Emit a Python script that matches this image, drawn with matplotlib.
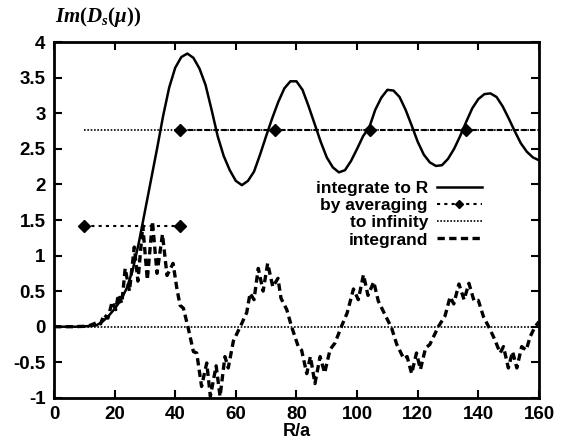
import matplotlib.pyplot as plt

plt.rcParams["font.family"] = ["Liberation Sans", "DejaVu Sans"]
plt.rcParams["font.weight"] = "bold"
plt.rcParams["mathtext.fontset"] = "custom"
plt.rcParams["mathtext.it"] = "Liberation Serif:italic:bold"
plt.rcParams["mathtext.rm"] = "Liberation Serif:bold"

# integrate to R (solid curve)
r_int = [0, 2, 4, 6, 8, 10, 12, 14, 16, 18, 20, 22, 24, 26, 28, 30, 32, 34, 36,
         38, 40, 42, 44, 46, 48, 50, 52, 54, 56, 58, 60, 62, 64, 66, 68, 70, 72,
         74, 76, 78, 80, 82, 84, 86, 88, 90, 92, 94, 96, 98, 100, 102, 104, 106,
         108, 110, 112, 114, 116, 118, 120, 122, 124, 126, 128, 130, 132, 134,
         136, 138, 140, 142, 144, 146, 148, 150, 152, 154, 156, 158, 160]
im_int = [0, 0, 0, 0, 0, 0.005, 0.01, 0.02, 0.07, 0.15, 0.25, 0.37, 0.54, 0.8,
          1.18, 1.62, 2.06, 2.5, 2.96, 3.36, 3.64, 3.79, 3.84, 3.78, 3.63, 3.4,
          3.05, 2.68, 2.4, 2.2, 2.05, 1.99, 2.05, 2.18, 2.42, 2.68, 2.93, 3.16,
          3.35, 3.45, 3.45, 3.33, 3.1, 2.85, 2.6, 2.38, 2.24, 2.17, 2.2, 2.33,
          2.5, 2.68, 2.8, 3.05, 3.22, 3.33, 3.32, 3.23, 3.05, 2.83, 2.6, 2.42,
          2.31, 2.26, 2.27, 2.36, 2.5, 2.68, 2.88, 3.07, 3.2, 3.27, 3.28, 3.23,
          3.1, 2.93, 2.75, 2.58, 2.46, 2.38, 2.34]

# by averaging
r_avg_lo = [10, 41.6]
im_avg_lo = [1.41, 1.41]
r_avg_hi = [41.5, 72.8, 104.2, 135.8, 160]
im_avg_hi = [2.76, 2.76, 2.76, 2.76, 2.76]
r_avg_mk = [41.5, 72.8, 104.2, 135.8]
im_avg_mk = [2.76, 2.76, 2.76, 2.76]

# to infinity
r_inf = [10, 160]
im_inf = [2.76, 2.76]
r_inf0 = [0, 160]
im_inf0 = [0, 0]

# integrand (dashed curve)
r_ig = [0, 6, 10, 12, 14.3, 15.4, 16.5, 17.8, 19.2, 20.4, 21.2, 22.4, 23.5,
        24.9, 26.5, 27.7, 29.3, 30.8, 32.5, 34.0, 35.8, 37.3, 39.3, 40.5, 41.6,
        42.7, 44.3, 46.0, 47.1, 48.7, 50.4, 51.6, 53.5, 54.8, 56.4, 57.5, 59.2,
        61.9, 63.6, 64.7, 66.0, 67.4, 69.0, 70.5, 72.2, 73.9, 74.9, 76.8, 78.4,
        80.6, 81.7, 83.4, 84.6, 86.1, 87.8, 89.3, 91.1, 92.7, 95.0, 96.7, 98.8,
        100.4, 102.1, 103.6, 105.5, 107.0, 109.2, 111.4, 113.1, 115.4, 116.5,
        118.0, 119.6, 120.9, 122.6, 124.0, 126.8, 129.0, 130.7, 131.9, 133.6,
        135.3, 136.9, 138.6, 140.0, 141.7, 143.9, 145.5, 147.2, 148.3, 149.9,
        151.3, 152.7, 154.3, 155.8, 157.1, 158.7, 160]
im_ig = [0, 0, 0.005, 0.02, 0.06, 0.04, 0.17, 0.12, 0.35, 0.24, 0.45, 0.33, 0.82,
         0.5, 1.12, 0.64, 1.42, 0.66, 1.48, 0.75, 1.3, 0.72, 0.89, 0.55, 0.3,
         0.26, -0.02, -0.35, -0.37, -0.84, -0.51, -0.98, -0.55, -0.98, -0.42,
         -0.58, -0.2, 0.04, 0.2, 0.47, 0.38, 0.82, 0.5, 0.89, 0.56, 0.68, 0.4,
         0.24, 0.0, -0.28, -0.33, -0.66, -0.42, -0.8, -0.42, -0.65, -0.32, -0.23,
         0.02, 0.19, 0.53, 0.38, 0.73, 0.44, 0.63, 0.36, 0.17, -0.02, -0.25,
         -0.45, -0.42, -0.66, -0.37, -0.6, -0.3, -0.25, 0.0, 0.15, 0.42, 0.32,
         0.6, 0.38, 0.61, 0.36, 0.37, 0.14, -0.04, -0.19, -0.37, -0.28, -0.58,
         -0.35, -0.58, -0.28, -0.33, -0.14, 0.0, 0.07]

x_ticks = [0, 20, 40, 60, 80, 100, 120, 140, 160]
y_ticks = [-1, -0.5, 0, 0.5, 1, 1.5, 2, 2.5, 3, 3.5, 4]
y_ticklabels = ["-1", "-0.5", "0", "0.5", "1", "1.5", "2", "2.5", "3", "3.5", "4"]

fig = plt.figure(figsize=(5.62, 4.44), dpi=100)
ax = fig.add_axes([0.096, 0.104, 0.863, 0.801])

ax.plot(r_int, im_int, color="black", lw=1.8, label="integrate to R")
ax.plot(r_avg_lo, im_avg_lo, color="black", lw=1.5, ls=(0, (1.5, 2)),
        marker="D", ms=6.5)
ax.plot(r_avg_hi, im_avg_hi, color="black", lw=1.5, ls=(0, (2.5, 1.5)))
ax.plot(r_avg_mk, im_avg_mk, color="black", ls="none", marker="D", ms=6.5)
ax.plot([], [], color="black", lw=1.5, ls=(0, (1.5, 2)), marker="D", ms=4,
        label="by averaging")
ax.plot(r_inf, im_inf, color="black", lw=1.2, ls=(0, (1, 1)), label="to infinity")
ax.plot(r_inf0, im_inf0, color="black", lw=1.2, ls=(0, (1, 1)))
ax.plot(r_ig, im_ig, color="black", lw=2.4, ls=(0, (2.2, 1.3)), label="integrand")

ax.set_xlim(0, 160)
ax.set_ylim(-1, 4)
ax.set_xticks(x_ticks)
ax.set_yticks(y_ticks)
ax.set_yticklabels(y_ticklabels)
ax.tick_params(direction="in", length=6, width=1.5, top=True, right=True,
               labelsize=13.5, pad=6)
for s in ax.spines.values():
    s.set_linewidth(2)

ax.set_xlabel("R/a", fontsize=13, fontweight="bold", labelpad=0)
fig.text(0.175, 0.962, r"$Im(D_s(\mu))$", fontsize=15, ha="center", va="center")

leg = ax.legend(loc="upper right", bbox_to_anchor=(0.9, 0.635), frameon=False,
                markerfirst=False, fontsize=12.5, handlelength=2.6,
                handletextpad=0.5, labelspacing=0.12, borderpad=0)
for t in leg.get_texts():
    t.set_fontweight("bold")

fig.savefig("out.png", dpi=100)
